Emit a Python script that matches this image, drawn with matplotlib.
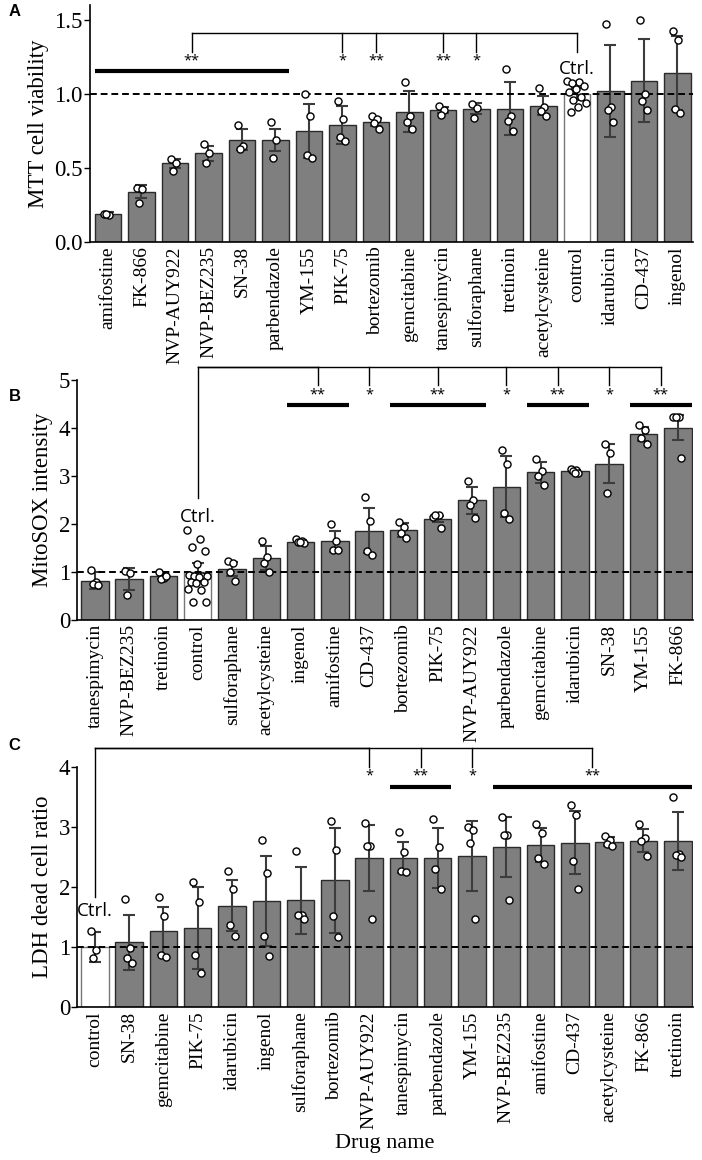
import numpy as np
import matplotlib
matplotlib.use('Agg')
import matplotlib.pyplot as plt

# ---- panel A : MTT ----
a_names = ['amifostine', 'FK-866', 'NVP-AUY922', 'NVP-BEZ235', 'SN-38', 'parbendazole',
           'YM-155', 'PIK-75', 'bortezomib', 'gemcitabine', 'tanespimycin', 'sulforaphane',
           'tretinoin', 'acetylcysteine', 'control', 'idarubicin', 'CD-437', 'ingenol']
a_means = [0.19, 0.34, 0.53, 0.60, 0.69, 0.69, 0.75, 0.79, 0.81, 0.88, 0.89, 0.90,
           0.90, 0.92, 1.00, 1.02, 1.09, 1.14]
a_errs = [0.01, 0.045, 0.03, 0.05, 0.07, 0.075, 0.18, 0.13, 0.03, 0.14, 0.02, 0.035,
          0.18, 0.065, 0.04, 0.31, 0.28, 0.25]
a_points = [[0.19, 0.18, 0.19], [0.365, 0.36, 0.26], [0.56, 0.53, 0.48], [0.66, 0.60, 0.53],
            [0.79, 0.65, 0.63], [0.81, 0.69, 0.57], [1.0, 0.85, 0.59, 0.57],
            [0.95, 0.83, 0.71, 0.68], [0.85, 0.83, 0.80, 0.76], [1.08, 0.85, 0.81, 0.76],
            [0.92, 0.89, 0.86], [0.93, 0.905, 0.84], [1.17, 0.85, 0.82, 0.75],
            [1.04, 0.91, 0.885, 0.85],
            [1.09, 1.08, 1.07, 1.05, 1.03, 1.01, 0.98, 0.96, 0.94, 0.91, 0.88],
            [1.47, 0.91, 0.89, 0.81], [1.50, 1.0, 0.955, 0.89], [1.425, 1.365, 0.90, 0.87]]
a_groups = [(0, 5, '**'), (7, 7, '*'), (8, 8, '**'), (10, 10, '**'), (11, 11, '*')]

# ---- panel B : MitoSOX ----
b_names = ['tanespimycin', 'NVP-BEZ235', 'tretinoin', 'control', 'sulforaphane', 'acetylcysteine',
           'ingenol', 'amifostine', 'CD-437', 'bortezomib', 'PIK-75', 'NVP-AUY922',
           'parbendazole', 'gemcitabine', 'idarubicin', 'SN-38', 'YM-155', 'FK-866']
b_means = [0.82, 0.85, 0.91, 0.99, 1.06, 1.30, 1.63, 1.64, 1.86, 1.87, 2.10, 2.49,
           2.78, 3.08, 3.10, 3.26, 3.87, 4.01]
b_errs = [0.17, 0.23, 0.06, 0.20, 0.14, 0.25, 0.03, 0.22, 0.47, 0.15, 0.06, 0.28,
          0.63, 0.22, 0.03, 0.40, 0.15, 0.27]
b_points = [[1.05, 0.80, 0.74, 0.73], [1.03, 0.98, 0.52], [1.0, 0.88, 0.86, 0.92],
            [1.88, 1.68, 1.52, 1.44, 1.17, 0.93, 0.92, 0.92, 0.92, 0.90, 0.80, 0.80, 0.78,
             0.65, 0.63, 0.38, 0.38],
            [1.22, 1.18, 1.00, 0.82], [1.65, 1.32, 1.19, 1.01], [1.68, 1.65, 1.62, 1.60, 1.62],
            [2.0, 1.65, 1.46, 1.45], [2.57, 2.07, 1.44, 1.35], [2.04, 1.93, 1.82, 1.70],
            [2.15, 2.18, 2.18, 1.91], [2.90, 2.51, 2.40, 2.12], [3.54, 3.26, 2.22, 2.10],
            [3.35, 3.11, 2.99, 2.81], [3.15, 3.12, 3.10, 3.07, 3.06], [3.66, 3.47, 2.65],
            [4.06, 3.95, 3.79, 3.66], [4.22, 4.22, 4.22, 3.37]]
b_groups = [(6, 7, '**'), (8, 8, '*'), (9, 11, '**'), (12, 12, '*'), (13, 14, '**'),
            (15, 15, '*'), (16, 17, '**')]

# ---- panel C : LDH ----
c_names = ['control', 'SN-38', 'gemcitabine', 'PIK-75', 'idarubicin', 'ingenol', 'sulforaphane',
           'bortezomib', 'NVP-AUY922', 'tanespimycin', 'parbendazole', 'YM-155', 'NVP-BEZ235',
           'amifostine', 'CD-437', 'acetylcysteine', 'FK-866', 'tretinoin']
c_means = [1.0, 1.08, 1.27, 1.32, 1.69, 1.77, 1.78, 2.11, 2.48, 2.49, 2.49, 2.52, 2.66,
           2.70, 2.74, 2.755, 2.77, 2.77]
c_errs = [0.25, 0.46, 0.40, 0.68, 0.42, 0.75, 0.56, 0.87, 0.55, 0.26, 0.50, 0.58, 0.50,
          0.28, 0.53, 0.07, 0.19, 0.48]
c_points = [[1.27, 0.95, 0.81], [1.80, 0.98, 0.81, 0.73], [1.84, 1.52, 0.87, 0.84],
            [2.09, 1.75, 0.86, 0.57], [2.27, 1.97, 1.37, 1.18], [2.79, 2.24, 1.18, 0.85],
            [2.60, 1.53, 1.53, 1.46], [3.10, 2.62, 1.52, 1.17], [3.07, 2.68, 2.68, 1.47],
            [2.91, 2.58, 2.27, 2.25], [3.13, 2.66, 2.30, 1.96], [3.0, 2.95, 2.74, 1.47],
            [3.17, 2.87, 2.87, 1.78], [3.05, 2.90, 2.49, 2.38], [3.37, 3.20, 2.44, 1.96],
            [2.85, 2.78, 2.72, 2.68], [3.05, 2.81, 2.76, 2.52], [3.50, 2.55, 2.54, 2.50]]
c_groups = [(8, 8, '*'), (9, 10, '**'), (11, 11, '*'), (12, 17, '**')]

SERIF = 'Liberation Serif'
SANS = 'Open Sans'


def draw_panel(ax, names, means, errs, points, groups, ylim, yticks, ylabel, fmt,
               top, drop, thick, ctrl_drop, ctrl_txt, xlim):
    x = np.arange(len(names))
    ctrl = names.index('control')
    face = ['white' if n == 'control' else '#7f7f7f' for n in names]
    edge = ['#777777' if n == 'control' else '#2b2b2b' for n in names]
    ax.bar(x, means, width=0.8, color=face, edgecolor=edge, linewidth=1.0, zorder=2)
    ax.errorbar(x, means, yerr=errs, fmt='none', ecolor='#3c3c3c', elinewidth=1.5,
                capsize=4.5, capthick=1.5, zorder=3)
    ax.axhline(1.0, color='black', lw=1.4, ls=(0, (3.5, 2)), zorder=4)
    for i, pts in enumerate(points):
        n = len(pts)
        w = 0.6 if n > 6 else 0.25
        offs = ((np.arange(n) * 0.618) % 1 - 0.5) * w
        ax.scatter(x[i] + offs, pts, s=26, facecolor='white', edgecolor='black',
                   linewidth=1.0, zorder=5, clip_on=False)

    # significance brackets
    centers = [(g0 + g1) / 2 for g0, g1, _ in groups]
    kw = dict(color='black', lw=1.0, clip_on=False, zorder=6)
    ax.plot([ctrl, ctrl], [top, ctrl_drop], **kw)
    ax.plot([ctrl, max(centers + [ctrl])], [top, top], **kw)
    ax.plot([min(centers), ctrl], [top, top], **kw)
    for (g0, g1, star), c in zip(groups, centers):
        ax.plot([c, c], [top, drop], **kw)
        if g1 > g0:
            ax.plot([g0 - 0.4, g1 + 0.4], [thick, thick], color='black', lw=3,
                    solid_capstyle='butt', clip_on=False, zorder=6)
        ax.text(c, thick + (ylim[1] - ylim[0]) * 0.012, star, ha='center', va='bottom',
                fontsize=10.5, family=SANS, zorder=7)
    ax.text(ctrl, ctrl_txt, 'Ctrl.', ha='center', va='center', fontsize=13.5,
            family=SANS, zorder=7)

    ax.set_xlim(*xlim)
    ax.set_ylim(*ylim)
    ax.set_yticks(yticks)
    ax.set_yticklabels([fmt % t for t in yticks], family=SERIF, fontsize=16.5)
    ax.set_xticks(x)
    ax.set_xticklabels(names, rotation=90, family=SERIF, fontsize=14)
    ax.tick_params(axis='x', length=0, pad=3)
    ax.tick_params(axis='y', length=4, width=1, direction='out', pad=1)
    ax.set_ylabel(ylabel, family=SERIF, fontsize=16.5, labelpad=4)
    for s in ['top', 'right']:
        ax.spines[s].set_visible(False)
    for s in ['left', 'bottom']:
        ax.spines[s].set_linewidth(1.2)


fig = plt.figure(figsize=(7.02, 11.6), dpi=100)
axA = fig.add_axes([0.128, 0.7914, 0.859, 0.2043])
axB = fig.add_axes([0.1097, 0.4655, 0.8773, 0.2069])
axC = fig.add_axes([0.1097, 0.1319, 0.8773, 0.2069])

draw_panel(axA, a_names, a_means, a_errs, a_points, a_groups, (0, 1.6),
           [0.0, 0.5, 1.0, 1.5], 'MTT cell viability', '%.1f',
           top=1.41, drop=1.28, thick=1.155, ctrl_drop=1.28, ctrl_txt=1.165,
           xlim=(-0.54, 17.46))
draw_panel(axB, b_names, b_means, b_errs, b_points, b_groups, (0, 5),
           [0, 1, 2, 3, 4, 5], 'MitoSOX intensity', '%d',
           top=5.27, drop=4.9, thick=4.48, ctrl_drop=2.54, ctrl_txt=2.15,
           xlim=(-0.52, 17.44))
draw_panel(axC, c_names, c_means, c_errs, c_points, c_groups, (0, 4),
           [0, 1, 2, 3, 4], 'LDH dead cell ratio', '%d',
           top=4.32, drop=4.0, thick=3.67, ctrl_drop=1.83, ctrl_txt=1.6,
           xlim=(-0.52, 17.44))
axC.set_xlabel('Drug name', family=SERIF, fontsize=16, labelpad=4)

for lab, yy in [('A', 0.990), ('B', 0.658), ('C', 0.357)]:
    fig.text(0.012, yy, lab, family='Liberation Sans', fontweight='bold', fontsize=12,
             va='center', ha='left')

fig.savefig('out.png', dpi=100)
